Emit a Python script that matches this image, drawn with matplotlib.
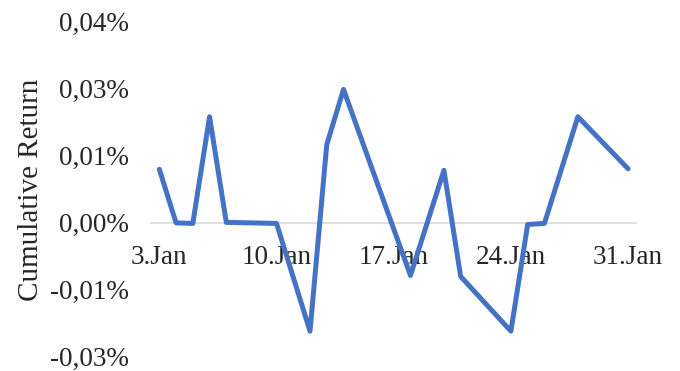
import matplotlib
matplotlib.use("Agg")
import matplotlib.pyplot as plt
import matplotlib.dates as mdates
import pandas as pd
from matplotlib.ticker import FixedLocator, FuncFormatter

# Trading days and cumulative return (%)
dates = ["2022-01-03", "2022-01-04", "2022-01-05", "2022-01-06", "2022-01-07",
         "2022-01-10", "2022-01-12", "2022-01-13", "2022-01-14", "2022-01-18",
         "2022-01-20", "2022-01-21", "2022-01-24", "2022-01-25", "2022-01-26",
         "2022-01-28", "2022-01-31"]
cum_return = [0.0100, -0.0000, -0.0001, 0.0198, 0.0001,
              -0.0001, -0.0202, 0.0146, 0.0249, -0.0098,
              0.0098, -0.0100, -0.0202, -0.0003, -0.0001,
              0.0198, 0.0101]
tick_dates = ["2022-01-03", "2022-01-10", "2022-01-17", "2022-01-24", "2022-01-31"]
y_ticks = [-0.025, -0.0125, 0.0, 0.0125, 0.025, 0.0375]

plt.rcParams["font.family"] = ["Liberation Serif", "DejaVu Serif"]

x = pd.to_datetime(dates)
fig = plt.figure(figsize=(6.8, 3.71), dpi=100)
ax = fig.add_axes([0.222, 0.038, 0.714, 0.903])

ax.plot(x, cum_return, color="#4472C4", linewidth=3.6,
        solid_joinstyle="round", solid_capstyle="round", zorder=3)

day = pd.Timedelta(hours=12)
ax.set_xlim(pd.Timestamp("2022-01-03") - day, pd.Timestamp("2022-01-31") + day)
ax.set_ylim(y_ticks[0], y_ticks[-1])

ax.xaxis.set_major_locator(FixedLocator(mdates.date2num(pd.to_datetime(tick_dates))))
ax.xaxis.set_major_formatter(mdates.DateFormatter("%-d.%b"))
ax.yaxis.set_major_locator(FixedLocator(y_ticks))
ax.yaxis.set_major_formatter(FuncFormatter(
    lambda v, _: (f"{v:.2f}".replace(".", ",") + "%") if abs(v) > 1e-12 else "0,00%"))

for s in ["top", "right", "left"]:
    ax.spines[s].set_visible(False)
ax.spines["bottom"].set_position(("data", 0))
ax.spines["bottom"].set_color("#d9d9d9")
ax.spines["bottom"].set_linewidth(1.2)
ax.spines["bottom"].set_zorder(1)

ax.tick_params(axis="x", length=0, pad=16, labelsize=19.5, colors="#262626")
ax.tick_params(axis="y", length=0, pad=16, labelsize=19.5, colors="#262626")
ax.set_ylabel("Cumulative Return", fontsize=21, color="#262626", labelpad=4)

fig.savefig("out.png", dpi=100)
